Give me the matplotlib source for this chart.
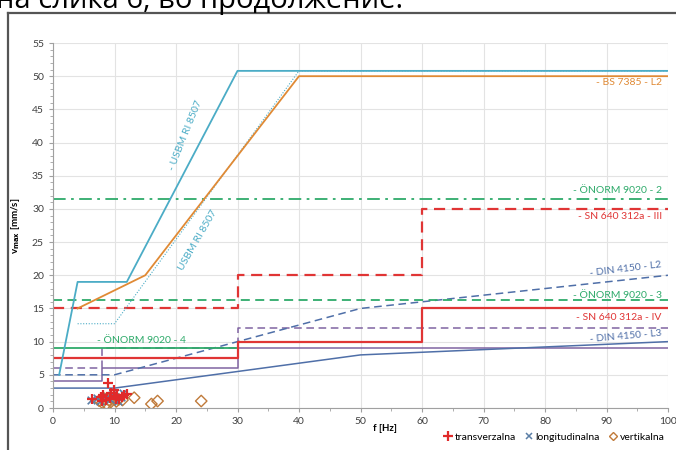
import matplotlib
matplotlib.use("Agg")
import matplotlib.pyplot as plt
from matplotlib.lines import Line2D
from matplotlib.ticker import MultipleLocator

# limit curves (frequency Hz, vmax mm/s)
usbm_f = [1, 4, 12, 30, 100]
usbm_v = [5, 19, 19, 50.8, 50.8]
usbm2_f = [4, 10, 40, 100]
usbm2_v = [12.7, 12.7, 50.8, 50.8]
bs_f = [4, 15, 40, 100]
bs_v = [15, 20, 50, 50]
onorm2_f = [0, 100]
onorm2_v = [31.5, 31.5]
onorm3_f = [0, 100]
onorm3_v = [16.2, 16.2]
onorm4_f = [0, 30]
onorm4_v = [9, 9]
sn3_f = [0, 30, 30, 60, 60, 100]
sn3_v = [15, 15, 20, 20, 30, 30]
sn4_f = [0, 30, 30, 60, 60, 100]
sn4_v = [7.5, 7.5, 10, 10, 15, 15]
din2_f = [0, 10, 50, 100]
din2_v = [5, 5, 15, 20]
din3_f = [0, 10, 50, 100]
din3_v = [3, 3, 8, 10]
purp_f = [0, 8, 8, 30, 30, 100]
purp_v = [4, 4, 6, 6, 9, 9]
purpd_f = [0, 8, 8, 30, 30, 100]
purpd_v = [6, 6, 9, 9, 12, 12]

# measurements
trans_f = [6.3, 7.8, 8.2, 8.6, 9.0, 9.3, 9.9, 10.4, 10.8, 11.2, 11.6, 12.1, 8.0, 9.5, 10.2]
trans_v = [1.3, 1.6, 1.9, 1.2, 3.7, 1.5, 2.7, 1.8, 1.3, 1.6, 1.9, 2.05, 1.0, 2.2, 1.4]
long_f = [6.1, 7.2, 8.1, 8.8, 9.6, 10.5, 11.0, 11.4, 7.6, 9.2]
long_v = [1.2, 1.5, 1.3, 1.7, 1.9, 1.1, 1.6, 2.2, 1.0, 1.4]
vert_f = [7.5, 8.0, 8.4, 8.7, 9.1, 9.4, 9.8, 10.3, 10.7, 11.3, 13.2, 16.0, 17.0, 24.1]
vert_v = [1.1, 0.8, 1.4, 0.6, 1.2, 0.9, 1.5, 1.0, 1.3, 1.2, 1.55, 0.6, 1.05, 1.05]

teal = "#4bacc6"
orange = "#e08a35"
green = "#2eaa6a"
red = "#e03535"
blue = "#4f6fa8"
purple = "#8064a2"

plt.rcParams['font.family'] = ['Lato', 'DejaVu Sans']

fig = plt.figure(figsize=(6.76, 4.5), dpi=100)
ax = fig.add_axes([53 / 676, 1 - 408 / 450, 615 / 676, 365 / 450])

dash = (0, (5, 3))
ax.plot(purp_f, purp_v, color=purple, lw=1.1)
ax.plot(purpd_f, purpd_v, color=purple, lw=1.1, ls=dash)
ax.plot(din3_f, din3_v, color=blue, lw=1.1)
ax.plot(din2_f, din2_v, color=blue, lw=1.1, ls=dash)
ax.plot(onorm4_f, onorm4_v, color=green, lw=1.3)
ax.plot(onorm3_f, onorm3_v, color=green, lw=1.3, ls=dash)
ax.plot(onorm2_f, onorm2_v, color=green, lw=1.3, ls=(0, (7, 3, 1.5, 3)))
ax.plot(sn4_f, sn4_v, color=red, lw=1.6)
ax.plot(sn3_f, sn3_v, color=red, lw=1.6, ls=dash)
ax.plot(usbm2_f, usbm2_v, color=teal, lw=0.8, ls=(0, (1, 1.5)))
ax.plot(bs_f, bs_v, color=orange, lw=1.3)
ax.plot(usbm_f, usbm_v, color=teal, lw=1.3)

ax.scatter(vert_f, vert_v, marker='D', s=34, facecolors='none', edgecolors='#c07a3a', lw=1, zorder=5)
ax.scatter(long_f, long_v, marker='x', s=30, color='#5b7fa6', lw=1.2, zorder=5)
ax.scatter(trans_f, trans_v, marker='+', s=60, color='#e02a2a', lw=1.6, zorder=6)

fs = 7.5
ax.text(99, 49.1, "- BS 7385 - L2", color=orange, fontsize=fs, ha='right', va='center')
ax.text(21.5, 41, "- USBM RI 8507", color=teal, fontsize=fs, rotation=68, ha='center', va='center')
ax.text(23.6, 25.3, "USBM RI 8507", color=teal, fontsize=fs, rotation=60, ha='center', va='center')
ax.text(99, 32.7, "- ÖNORM 9020 - 2", color=green, fontsize=fs, ha='right', va='center')
ax.text(99, 28.9, "- SN 640 312a - III", color=red, fontsize=fs, ha='right', va='center')
ax.text(99, 20.9, "- DIN 4150 - L2", color=blue, fontsize=fs, ha='right', va='center', rotation=7)
ax.text(99, 16.9, "- ÖNORM 9020 - 3", color=green, fontsize=fs, ha='right', va='center')
ax.text(99, 13.7, "- SN 640 312a - IV", color=red, fontsize=fs, ha='right', va='center')
ax.text(99, 10.8, "- DIN 4150 - L3", color=blue, fontsize=fs, ha='right', va='center', rotation=5)
ax.text(7.2, 10.1, "- ÖNORM 9020 - 4", color=green, fontsize=fs, ha='left', va='center')

ax.set_xlim(0, 100)
ax.set_ylim(0, 55)
ax.xaxis.set_major_locator(MultipleLocator(10))
ax.xaxis.set_minor_locator(MultipleLocator(5))
ax.yaxis.set_major_locator(MultipleLocator(5))
ax.yaxis.set_minor_locator(MultipleLocator(1))
ax.grid(True, which='major', color='#e3e3e3', lw=0.8)
ax.set_axisbelow(True)
for s in ['top', 'right']:
    ax.spines[s].set_visible(False)
for s in ['left', 'bottom']:
    ax.spines[s].set_color('#a0a0a0')
ax.tick_params(which='both', colors='#a0a0a0', labelcolor='#404040', labelsize=7.5, length=3)
ax.tick_params(which='minor', length=2)

ax.set_xlabel("f [Hz]", fontsize=7, fontweight='bold', labelpad=6)
ax.xaxis.set_label_coords(0.54, -0.045)
ax.set_ylabel(r"v$_{\mathbf{max}}$ [mm/s]", fontsize=7, fontweight='bold')
ax.yaxis.set_label_coords(-0.05, 0.5)

handles = [
    Line2D([], [], marker='+', ls='none', color='#e02a2a', mew=1.6, ms=7),
    Line2D([], [], marker='x', ls='none', color='#5b7fa6', mew=1.1, ms=5),
    Line2D([], [], marker='D', ls='none', mfc='none', mec='#c07a3a', mew=1, ms=4),
]
fig.legend(handles, ["transverzalna", "longitudinalna", "vertikalna"], loc='center right',
           bbox_to_anchor=(0.997, 1 - 437 / 450), ncol=3, frameon=False, fontsize=7.5,
           handletextpad=0.1, columnspacing=0.8, handlelength=1)

# frame of the embedded chart and cut-off document text above it
fig.add_artist(Line2D([8 / 676, 8 / 676], [0, 1 - 13 / 450], color='#555555', lw=1.6))
fig.add_artist(Line2D([8 / 676, 1], [1 - 13 / 450, 1 - 13 / 450], color='#555555', lw=1.6))
fig.text(-0.006, 1 - 8 / 450, "на слика 6, во продолжение:", fontsize=21,
         family=['Open Sans', 'DejaVu Sans'], va='baseline', ha='left')

fig.savefig("out.png", dpi=100)
